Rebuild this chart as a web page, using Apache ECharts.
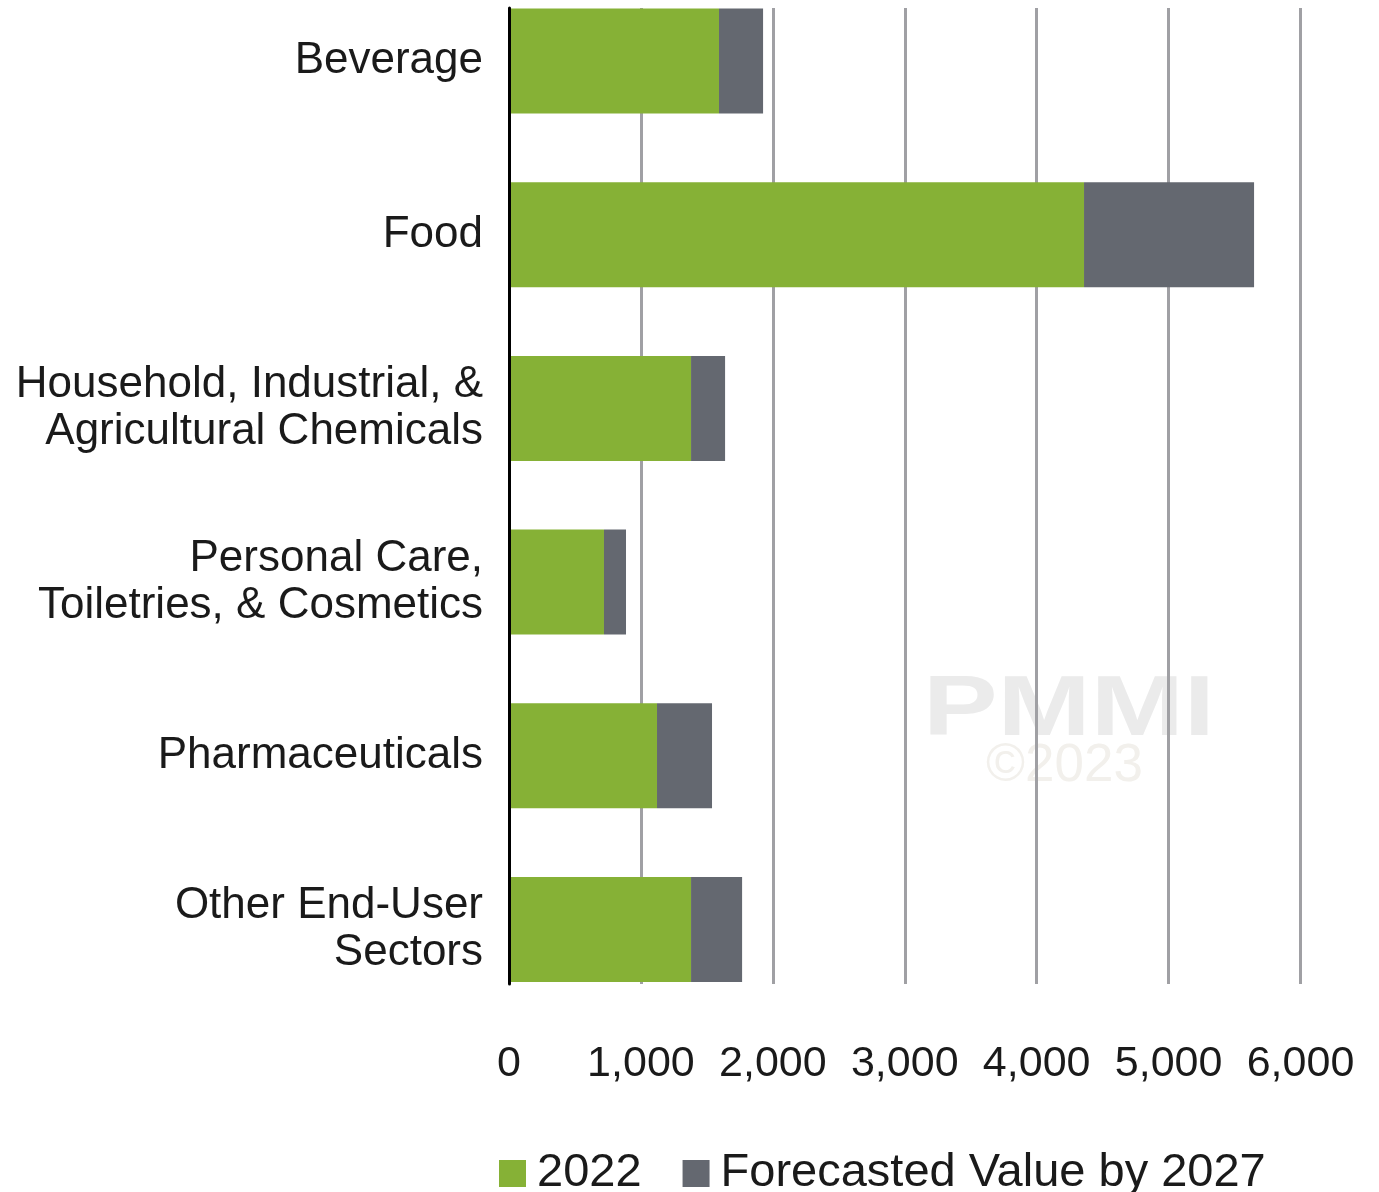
<!DOCTYPE html>
<html>
<head>
<meta charset="utf-8">
<script src="https://cdn.jsdelivr.net/npm/echarts@6/dist/echarts.min.js"></script>
<style>
  html, body { margin: 0; padding: 0; background: #fff; }
  #chart { width: 1379px; height: 1192px; }
</style>
</head>
<body>
<div id="chart"></div>
<script>
// categories, top to bottom
const categories = [
  'Beverage',
  'Food',
  'Household, Industrial, &\nAgricultural Chemicals',
  'Personal Care,\nToiletries, & Cosmetics',
  'Pharmaceuticals',
  'Other End-User\nSectors'
];
// value in 2022
const value2022 = [1592, 4359, 1380, 720, 1122, 1380];
// added value up to the 2027 forecast (stacked on top of 2022)
const growthTo2027 = [334, 1289, 258, 167, 417, 387];
const xTicks = [0, 1000, 2000, 3000, 4000, 5000, 6000];

const seriesNames = ['2022', 'Forecasted Value by 2027'];
const colors = ['#86b136', '#646870'];

const chart = echarts.init(document.getElementById('chart'));

const fmt = v => v.toLocaleString('en-US');

const option = {
  animation: false,
  color: colors,
  textStyle: { fontFamily: 'Liberation Sans, Arial, sans-serif' },
  grid: [
    // bars + category labels (bands run past the frame, like the original)
    { left: 509, right: 78.5, top: -25.85, height: 1042.2, containLabel: false, outerBoundsMode: 'none' },
    // frame: value axis with gridlines, left axis line
    { left: 509, right: 78.5, top: 8, height: 976, containLabel: false, outerBoundsMode: 'none' }
  ],
  xAxis: [
    {
      gridIndex: 0, type: 'value', min: xTicks[0], max: xTicks[xTicks.length - 1], interval: 1000,
      show: false
    },
    {
      gridIndex: 1, type: 'value', min: xTicks[0], max: xTicks[xTicks.length - 1], interval: 1000,
      axisLine: { show: false },
      axisTick: { show: false },
      splitLine: { show: true, lineStyle: { color: '#a0a0a4', width: 3 } },
      axisLabel: {
        margin: 59,
        fontSize: 43,
        color: '#1a1a1a',
        formatter: v => fmt(v)
      }
    }
  ],
  yAxis: [
    {
      gridIndex: 0, type: 'category', inverse: true, data: categories,
      axisLine: { show: false },
      axisTick: { show: false },
      splitLine: { show: false },
      axisLabel: {
        margin: 26,
        fontSize: 44,
        lineHeight: 47,
        color: '#1a1a1a',
        align: 'right'
      }
    },
    {
      gridIndex: 1, type: 'value', min: 0, max: 1,
      z: 10,
      axisLine: { show: true, onZero: false, lineStyle: { color: '#000', width: 3 } },
      axisTick: { show: false },
      axisLabel: { show: false },
      splitLine: { show: false }
    }
  ],
  legend: {
    left: 494,
    top: 1145,
    itemWidth: 27,
    itemHeight: 27,
    itemGap: 41,
    icon: 'rect',
    textStyle: { fontSize: 47, color: '#1a1a1a', padding: [0, 0, 0, 6] },
    data: seriesNames
  },
  graphic: [
    {
      type: 'text', left: 923, top: 668, z: -10, silent: true,
      scaleX: 1.3,
      style: { text: 'PMMI', fontSize: 86, fontWeight: 'bold', fill: '#ebebeb', fontFamily: 'Liberation Sans' }
    },
    {
      type: 'text', left: 986, top: 740, z: -10, silent: true,
      style: { text: '\u00a92023', fontSize: 53, fill: '#f2f0ec', fontFamily: 'Liberation Sans' }
    }
  ],
  series: [
    {
      name: seriesNames[0], type: 'bar', stack: 'total',
      xAxisIndex: 0, yAxisIndex: 0,
      barWidth: 105,
      data: value2022
    },
    {
      name: seriesNames[1], type: 'bar', stack: 'total',
      xAxisIndex: 0, yAxisIndex: 0,
      barWidth: 105,
      data: growthTo2027
    }
  ]
};

chart.setOption(option);
</script>
</body>
</html>
